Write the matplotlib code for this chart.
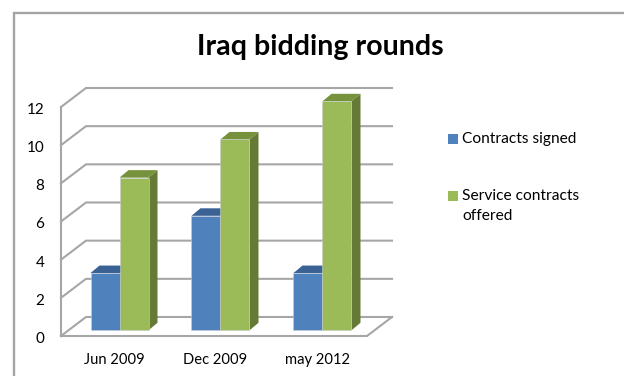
import matplotlib
matplotlib.use("Agg")
import matplotlib.pyplot as plt
from matplotlib.patches import Polygon, Rectangle
from matplotlib.transforms import ScaledTranslation

# Chart content
rounds = ["Jun 2009", "Dec 2009", "may 2012"]
contracts_signed = [3, 6, 3]
service_contracts_offered = [8, 10, 12]
y_ticks = [0, 2, 4, 6, 8, 10, 12]
series_names = ["Contracts signed", "Service contracts\noffered"]

# Colours
BLUE = ("#4F81BD", "#3A6294", "#2F5380")
GREEN = ("#9BBB59", "#76923C", "#647A35")
GRID = "#A6A6A6"
FRAME = "#A3A3A3"

W, H = 624, 376
plt.rcParams["font.family"] = ["Lato", "DejaVu Sans"]
fig = plt.figure(figsize=(W / 100, H / 100), dpi=100, facecolor="white")

# Full-figure layer for the chart frame, title and legend (pixel units)
page = fig.add_axes([0, 0, 1, 1])
page.set_xlim(0, W)
page.set_ylim(H, 0)
page.axis("off")
page.plot([13.5, 13.5, W], [H, 12.5, 12.5], color=FRAME, lw=1.7, solid_joinstyle="miter")
page.text(320, 47.5, "Iraq bidding rounds", ha="center", va="center",
          fontsize=20.6, fontweight="bold", color="black")

# Front plane of the plot: one unit on x is a category slot
left, right, bottom, top = 61, 367, 336, 107
ax = fig.add_axes([left / W, 1 - bottom / H, (right - left) / W, (bottom - top) / H])
ax.set_xlim(0, 3)
ax.set_ylim(0, 12)
ax.patch.set_alpha(0)
for s in ax.spines.values():
    s.set_visible(False)

# Oblique projection offsets, in axis units
px_x = 3 / (right - left)
px_y = 12 / (bottom - top)
wall_dx, wall_dy = 25 * px_x, 19 * px_y
bar_dx, bar_dy = 9 * px_x, 7.5 * px_y
bar_w = 29 * px_x
base_dx, base_dy = 29.5 * px_x, 5.7 * px_y
step = 1.0

# Walls, gridlines and floor
line_kw = dict(color=GRID, lw=1.5, solid_joinstyle="miter", clip_on=False, zorder=1)
for v in y_ticks:
    ax.plot([0, wall_dx, 3 + wall_dx], [v, v + wall_dy, v + wall_dy], **line_kw)
ax.plot([0, 0], [0, 12], **line_kw)
ax.plot([0, 3, 3 + wall_dx], [0, 0, wall_dy], **line_kw)


def draw_bar(x0, value, colours, z):
    """Draw one extruded column from its value."""
    face, roof, side = colours
    y0 = base_dy
    y1 = base_dy + value
    x1 = x0 + bar_w
    ax.add_patch(Polygon([(x1, y0), (x1 + bar_dx, y0 + bar_dy), (x1 + bar_dx, y1 + bar_dy), (x1, y1)],
                         fc=side, ec="none", zorder=z, clip_on=False))
    ax.add_patch(Polygon([(x0, y1), (x0 + bar_dx, y1 + bar_dy), (x1 + bar_dx, y1 + bar_dy), (x1, y1)],
                         fc=roof, ec="none", zorder=z, clip_on=False))
    ax.bar(x0, value, width=bar_w, bottom=y0, align="edge", color=face,
           edgecolor="#C9CDD2", linewidth=0.4, zorder=z + 0.1, clip_on=False)


for i, (signed, offered) in enumerate(zip(contracts_signed, service_contracts_offered)):
    x = base_dx + i * step - (0.01 if i else 0)
    draw_bar(x, signed, BLUE, 3 + i)
    draw_bar(x + bar_w, offered, GREEN, 3.5 + i)

# Axis labels
ax.set_yticks(y_ticks)
ax.tick_params(axis="y", length=0, pad=12, labelsize=11, labelcolor="black")
nudge = ScaledTranslation(0, -1.5 / 100, fig.dpi_scale_trans)
for label in ax.get_yticklabels():
    label.set_transform(label.get_transform() + nudge)
ax.set_xticks([0.52 + i * 0.995 for i in range(len(rounds))])
ax.set_xticklabels(rounds)
ax.tick_params(axis="x", length=0, pad=12.5, labelsize=10.6, labelcolor="black")

# Legend
page.add_patch(Rectangle((448, 134), 10, 10, fc=BLUE[0], ec="none"))
page.add_patch(Rectangle((448, 191), 10, 10, fc=GREEN[0], ec="none"))
first_line, second_line = series_names[1].split("\n")
page.text(462, 138.5, series_names[0], va="center", fontsize=11.2)
page.text(462, 196, first_line, va="center", fontsize=11.2)
page.text(462, 216.5, second_line, va="center", fontsize=11.2)

fig.savefig("out.png", dpi=100, facecolor="white")
